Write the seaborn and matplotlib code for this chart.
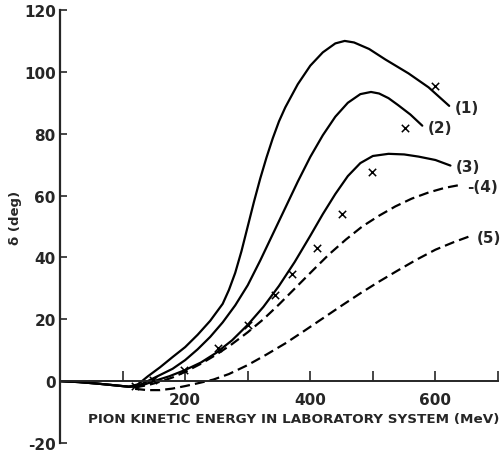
import matplotlib
matplotlib.use("Agg")
import matplotlib.pyplot as plt
import pandas as pd
import seaborn as sns

# Phase-shift curves: pion kinetic energy (MeV) vs delta (deg)
energy_1 = [0, 30, 60, 90, 110, 125, 140, 160, 180, 200, 220, 240, 260, 270, 280, 290, 300, 310,
            320, 330, 340, 350, 360, 380, 400, 420, 440, 455, 470, 494, 520, 557, 589, 622]
delta_1 = [0, -0.3, -0.8, -1.4, -1.8, -1.0, 1.5, 4.5, 7.8, 11, 15, 19.5, 25, 29.5, 35, 42, 50, 58,
           65.5, 72.3, 78.5, 84, 88.5, 96, 102, 106.3, 109.2, 110, 109.5, 107.4, 104, 99.5, 95, 89]

energy_2 = [0, 30, 60, 90, 110, 125, 140, 160, 180, 200, 220, 240, 260, 280, 300, 320, 340, 360,
            380, 400, 420, 440, 460, 480, 497, 510, 525, 540, 560, 579]
delta_2 = [0, -0.3, -0.8, -1.4, -1.8, -1.5, 0, 2, 4, 6.8, 10.3, 14.3, 19, 24.5, 31, 39, 47.5, 56,
           64.5, 72.5, 79.5, 85.5, 90, 92.8, 93.5, 93, 91.5, 89.3, 86.2, 82.6]

energy_3 = [0, 30, 60, 90, 110, 125, 150, 175, 200, 225, 250, 275, 300, 325, 350, 375, 400, 420,
            440, 460, 480, 500, 525, 550, 573, 600, 624]
delta_3 = [0, -0.3, -0.8, -1.4, -1.8, -1.8, 0, 1.6, 3.6, 6, 9.2, 13.2, 18.2, 24, 30.8, 38.5, 47, 54,
           60.5, 66.3, 70.5, 72.8, 73.5, 73.3, 72.6, 71.5, 69.7]

energy_4 = [120, 140, 160, 180, 200, 225, 250, 275, 300, 325, 350, 378, 405, 430, 457, 483, 510,
            536, 562, 589, 615, 641]
delta_4 = [-2, -1.3, -0.2, 1.2, 3, 5.6, 8.6, 12, 15.8, 20, 24.8, 30.5, 36, 41, 45.8, 50, 53.5,
           56.5, 59, 61, 62.5, 63.5]

energy_5 = [120, 140, 160, 180, 200, 220, 245, 270, 300, 330, 360, 390, 420, 450, 480, 510, 540,
            570, 600, 630, 657]
delta_5 = [-2.5, -2.9, -2.9, -2.4, -1.6, -0.7, 0.5, 2.3, 5.2, 8.6, 12.2, 16.2, 20.3, 24.4, 28.4,
           32.2, 35.8, 39.3, 42.5, 45, 47]

curve_names = ["(1)", "(2)", "(3)", "(4)", "(5)"]

# Measured phase shifts
exp_energy = [120, 149, 198, 252, 300, 344, 371, 411, 450, 498, 551, 600]
exp_delta = [-1.6, 0.3, 3.5, 10.6, 18, 27.7, 34.5, 43, 54, 67.7, 82, 95.5]

x_ticks = [100, 200, 300, 400, 500, 600, 700]
x_tick_labels = ["", "200", "", "400", "", "600", ""]
y_ticks = [-20, 0, 20, 40, 60, 80, 100, 120]

curves = list(zip(curve_names,
                  [energy_1, energy_2, energy_3, energy_4, energy_5],
                  [delta_1, delta_2, delta_3, delta_4, delta_5]))
frames = [pd.DataFrame({"energy": e, "delta": d, "curve": n}) for n, e, d in curves]
df = pd.concat(frames, ignore_index=True)
points = pd.DataFrame({"energy": exp_energy, "delta": exp_delta})

sns.set_style("ticks")
plt.rcParams["font.family"] = ["DejaVu Sans"]
plt.rcParams["font.weight"] = "bold"

fig = plt.figure(figsize=(5.01, 4.56), dpi=100)
ax = fig.add_axes([60 / 501, 1 - 444 / 456, 438 / 501, 433 / 456])

sns.lineplot(data=df, x="energy", y="delta", hue="curve", style="curve",
             palette=["black"] * 5,
             dashes={"(1)": "", "(2)": "", "(3)": "", "(4)": (4.5, 2.3), "(5)": (4.5, 2.3)},
             sort=False, estimator=None, units="curve", linewidth=1.6,
             legend=False, ax=ax)
sns.scatterplot(data=points, x="energy", y="delta", marker="x", s=28,
                color="black", linewidth=1.1, ax=ax, zorder=3)

# curve labels at the end of each curve
for name, e, d in curves:
    prefix = "-" if name == "(4)" else ""
    ax.annotate(prefix + name, xy=(e[-1], d[-1]), xytext=(4, -1),
                textcoords="offset points", ha="left", va="center",
                fontsize=11, fontweight="bold")

ax.set_xlim(0, 700)
ax.set_ylim(-20, 120)
ax.set_xticks(x_ticks)
ax.set_xticklabels(x_tick_labels)
ax.set_yticks(y_ticks)
ax.set_yticklabels([str(v) for v in y_ticks])

sns.despine(ax=ax)
ax.spines["bottom"].set_position(("data", 0))
ax.spines["bottom"].set_linewidth(1.4)
ax.spines["left"].set_linewidth(1.6)
ax.tick_params(axis="x", direction="in", length=7, width=1.2, pad=8, labelsize=11)
ax.tick_params(axis="y", direction="in", length=5, width=1.2, pad=3, labelsize=11)
for lbl in ax.get_xticklabels() + ax.get_yticklabels():
    lbl.set_fontweight("bold")

ax.set_xlabel("")
ax.set_ylabel("")
fig.text(294 / 501, 1 - 420 / 456, "PION KINETIC ENERGY IN LABORATORY SYSTEM (MeV)",
         ha="center", va="center", fontsize=9.7, fontweight="bold")
fig.text(15 / 501, 1 - 218 / 456, "δ (deg)", rotation=90, ha="center",
         va="center", fontsize=9.5, fontweight="bold")

fig.savefig("out.png", dpi=100)
